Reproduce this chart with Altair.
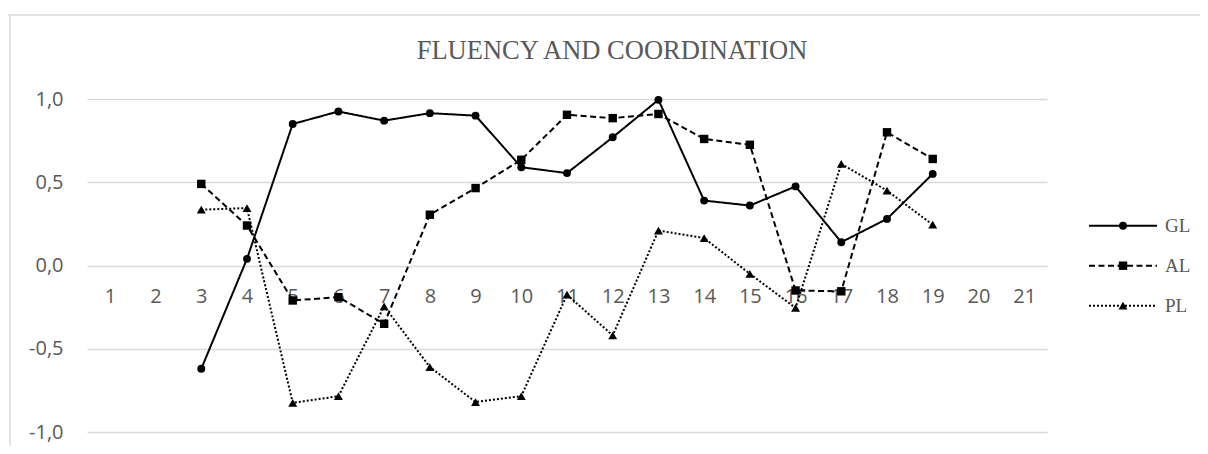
import altair as alt
import pandas as pd

categories = list(range(1, 22))
series_names = ["GL", "AL", "PL"]
gl = [None, None, -0.62, 0.04, 0.85, 0.925, 0.87, 0.915, 0.90, 0.59, 0.555, 0.77, 0.995,
      0.39, 0.36, 0.475, 0.14, 0.28, 0.55, None, None]
al = [None, None, 0.49, 0.24, -0.21, -0.19, -0.35, 0.305, 0.465, 0.635, 0.905, 0.885, 0.91,
      0.76, 0.725, -0.15, -0.155, 0.80, 0.64, None, None]
pl = [None, None, 0.335, 0.345, -0.825, -0.785, -0.245, -0.61, -0.82, -0.785, -0.175, -0.42, 0.21,
      0.165, -0.05, -0.255, 0.61, 0.45, 0.245, None, None]
y_ticks = [-1.0, -0.5, 0.0, 0.5, 1.0]
title_text = "FLUENCY AND COORDINATION"

rows = []
for name, vals in zip(series_names, [gl, al, pl]):
    for c, v in zip(categories, vals):
        if v is not None:
            rows.append({"cat": c, "value": v, "series": name})
df = pd.DataFrame(rows)

legend_df = pd.DataFrame([{"series": s, "lx": k} for s in series_names for k in (0, 1, 2)])

W, H = 960, 333
GRAY = "#595959"
dash_scale = alt.Scale(domain=series_names, range=[[1, 0], [6, 3.5], [2, 2]])
shape_scale = alt.Scale(domain=series_names, range=["circle", "square", "triangle-up"])
size_scale = alt.Scale(domain=series_names, range=[62, 80, 130])

x = alt.X(
    "cat:O",
    scale=alt.Scale(type="point", domain=categories, padding=0.5),
    axis=alt.Axis(title=None, orient="bottom", offset=-(H / 2), labelAngle=0, ticks=False,
                  tickSize=0, domain=False, grid=False, labelPadding=31, labelBaseline="middle",
                  labelFont="Open Sans", labelFontSize=20, labelColor=GRAY),
)
y = alt.Y(
    "value:Q",
    scale=alt.Scale(domain=[-1, 1], nice=False, zero=False),
    axis=alt.Axis(title=None, values=y_ticks,
                  labelExpr="(datum.value < 0 ? '-' : '') + replace(format(abs(datum.value), '.1f'), '.', ',')",
                  ticks=False, tickSize=0, domain=False, grid=True, gridColor="#d9d9d9",
                  gridWidth=1.5, labelPadding=24, labelFont="Open Sans", labelFontSize=20,
                  labelColor=GRAY),
)

lines = alt.Chart(df).mark_line(strokeWidth=2, color="black").encode(
    x=x, y=y,
    strokeDash=alt.StrokeDash("series:N", scale=dash_scale, legend=None),
)
points = alt.Chart(df).mark_point(filled=True, color="black", opacity=1).encode(
    x=x, y=y,
    shape=alt.Shape("series:N", scale=shape_scale, legend=None),
    size=alt.Size("series:O", scale=size_scale, legend=None),
)

one = alt.Data(values=[{"k": 0}])
left_border = alt.Chart(one).mark_rule(color="#d9d9d9", strokeWidth=1.5).encode(
    x=alt.value(-77), y=alt.value(-84), y2=alt.value(347))
top_border = alt.Chart(one).mark_rule(color="#d9d9d9", strokeWidth=1.5).encode(
    x=alt.value(-79), x2=alt.value(1113), y=alt.value(-84))
title_mark = alt.Chart(one).mark_text(
    text=title_text, font="Liberation Serif", fontSize=26.5, color=GRAY,
    align="center", baseline="middle").encode(x=alt.value(525), y=alt.value(-48))

lx = alt.X("lx:Q", scale=alt.Scale(domain=[0, 2], range=[1002, 1070]), axis=None)
ly = alt.Y("series:N", scale=alt.Scale(type="point", domain=series_names,
                                       range=[126.7, 206.7], padding=0), axis=None)
leg_line = alt.Chart(legend_df).mark_line(strokeWidth=2, color="black").encode(
    x=lx, y=ly, strokeDash=alt.StrokeDash("series:N", scale=dash_scale, legend=None))
leg_pts = alt.Chart(legend_df).transform_filter("datum.lx == 1").mark_point(
    filled=True, color="black", opacity=1).encode(
    x=lx, y=ly,
    shape=alt.Shape("series:N", scale=shape_scale, legend=None),
    size=alt.Size("series:O", scale=size_scale, legend=None))
leg_txt = alt.Chart(legend_df).transform_filter("datum.lx == 2").mark_text(
    align="left", baseline="middle", dx=8, font="Liberation Serif", fontSize=19,
    color=GRAY).encode(x=lx, y=ly, text="series:N")

main = alt.layer(left_border, top_border, title_mark, lines, points)
legend = alt.layer(leg_line, leg_pts, leg_txt)

chart = alt.layer(main, legend).resolve_scale(x="independent", y="independent").properties(
    width=W, height=H,
    autosize=alt.AutoSizeParams(type="none"),
    padding={"left": 79, "top": 91, "right": 153, "bottom": 14},
).configure_view(strokeWidth=0)

chart.save("out.html", embed_options={"renderer": "svg", "actions": False})
